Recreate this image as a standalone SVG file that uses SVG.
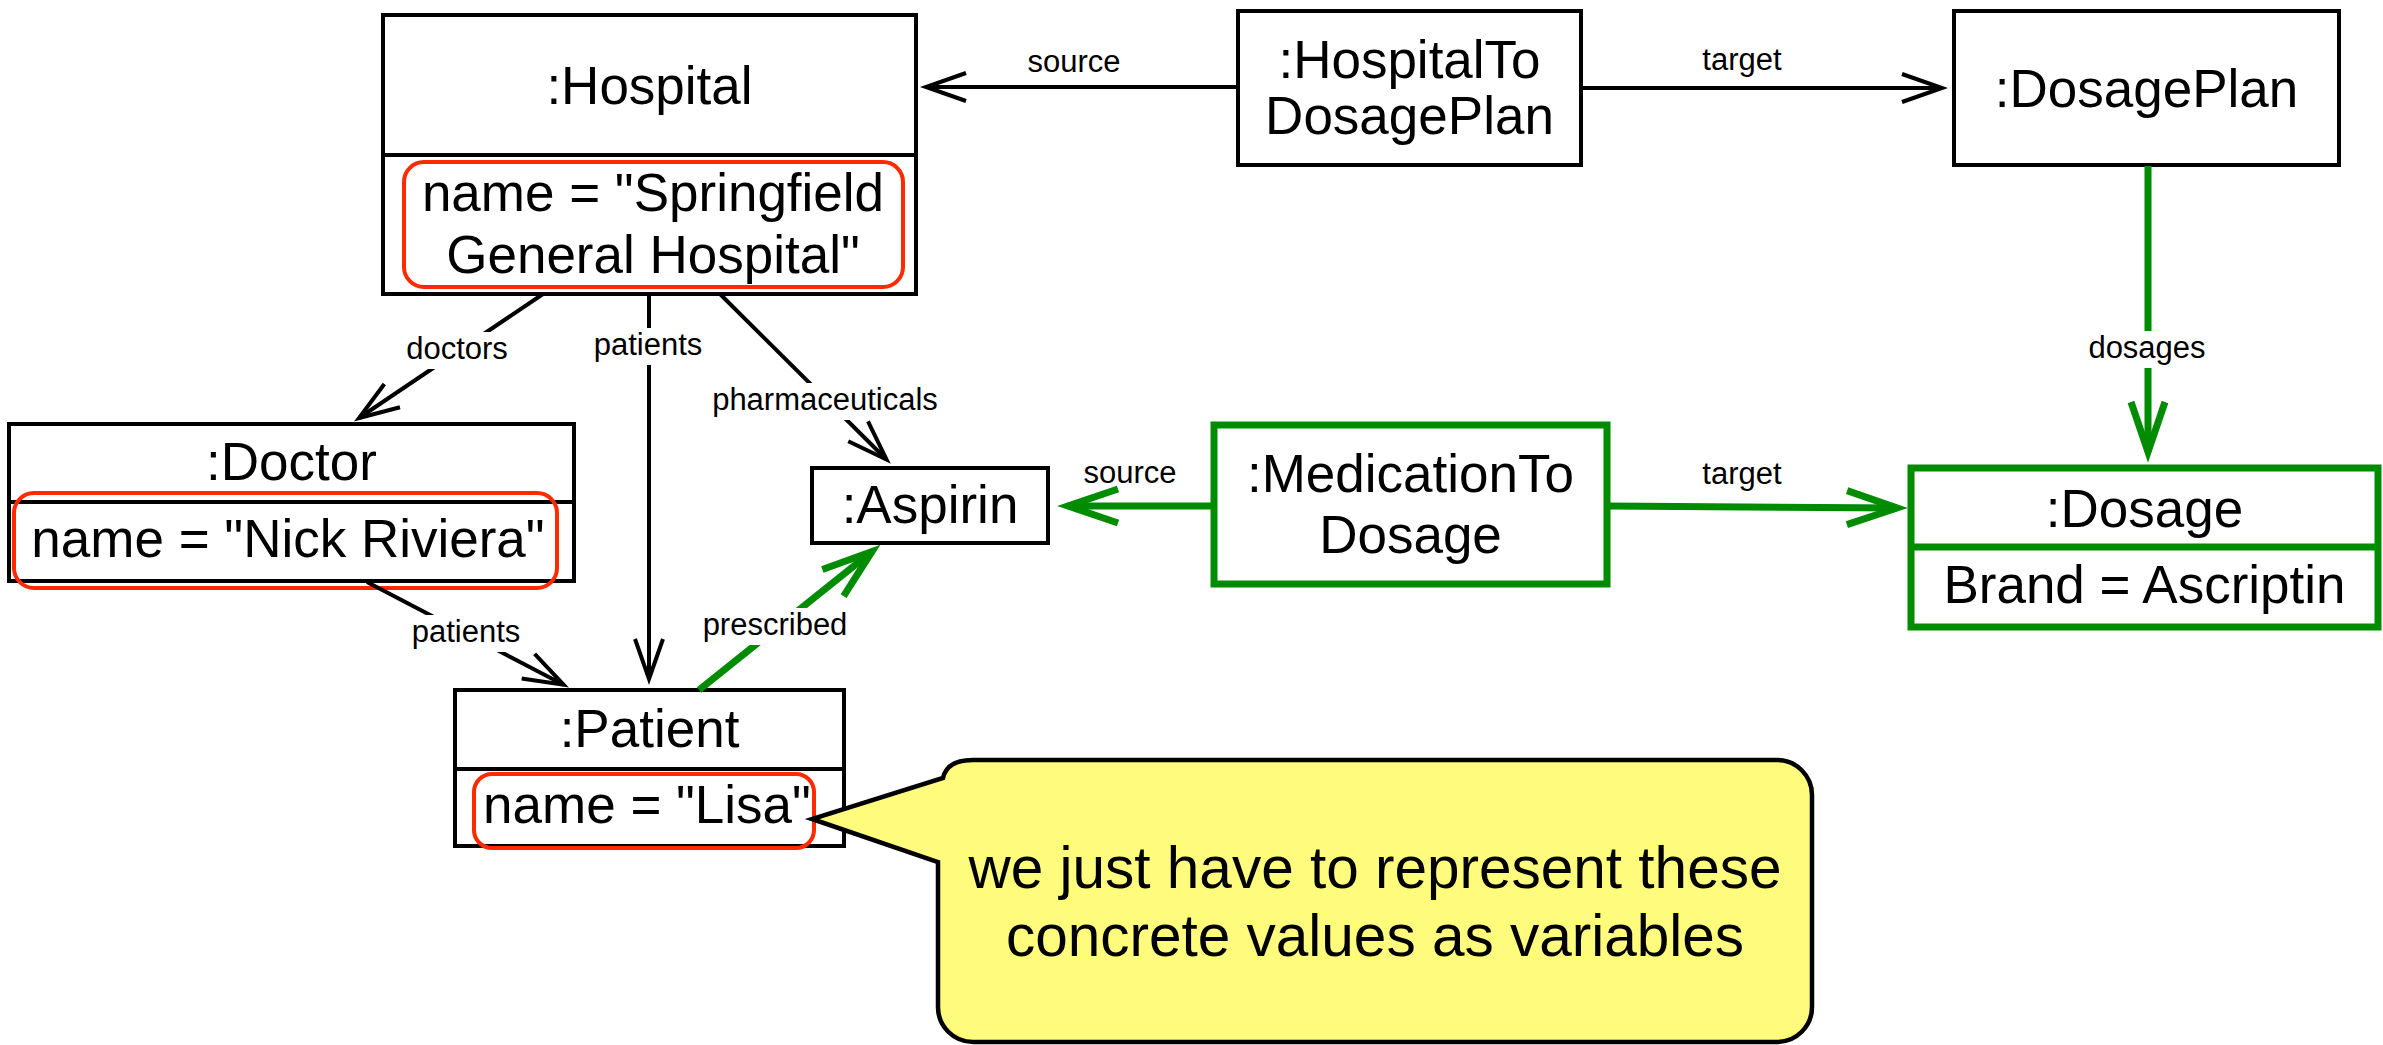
<svg xmlns="http://www.w3.org/2000/svg" width="2383" height="1045" viewBox="0 0 2383 1045">
  <defs>
    <style>
      .box{fill:#fff;stroke:#000;stroke-width:4}
      .gbox{fill:#fff;stroke:#008c00;stroke-width:7}
      .sep{stroke:#000;stroke-width:4}
      .gsep{stroke:#008c00;stroke-width:7}
      .hl{fill:none;stroke:#ff2a00;stroke-width:4}
      .t{font-family:"Liberation Sans",Arial,Helvetica,sans-serif;font-size:53px;fill:#000;text-anchor:middle}
      .lbl{font-family:"Liberation Sans",Arial,Helvetica,sans-serif;font-size:31px;fill:#000;text-anchor:middle}
      .note{font-family:"Liberation Sans",Arial,Helvetica,sans-serif;font-size:58.5px;fill:#000;text-anchor:middle}
      .bg{fill:#fff}
      .edge{fill:none;stroke:#000;stroke-width:4}
      .gedge{fill:none;stroke:#008c00;stroke-width:7}
    </style>
    <marker id="arr" markerUnits="userSpaceOnUse" markerWidth="60" markerHeight="40" viewBox="-50 -20 60 40" refX="0" refY="0" orient="auto" overflow="visible">
      <path d="M-40,-14 L0,0 L-40,14" fill="none" stroke="#000" stroke-width="4"/>
    </marker>
    <marker id="garr" markerUnits="userSpaceOnUse" markerWidth="70" markerHeight="50" viewBox="-60 -25 70 50" refX="0" refY="0" orient="auto" overflow="visible">
      <path d="M-50,-17 L0,0 L-50,17" fill="none" stroke="#008c00" stroke-width="7"/>
    </marker>
  </defs>

  <!-- object nodes -->
  <g id="hospital">
    <rect class="box" x="383" y="15" width="533" height="279"/>
    <line class="sep" x1="383" y1="155" x2="916" y2="155"/>
    <text class="t" x="649.5" y="104">:Hospital</text>
    <rect class="hl" x="404" y="162" width="499" height="125" rx="20"/>
    <text class="t" x="653" y="211">name = "Springfield</text>
    <text class="t" x="653" y="273">General Hospital"</text>
  </g>

  <g id="hospitalToDosagePlan">
    <rect class="box" x="1238" y="11" width="343" height="154"/>
    <text class="t" x="1409.5" y="78">:HospitalTo</text>
    <text class="t" x="1409.5" y="134">DosagePlan</text>
  </g>

  <g id="dosagePlan">
    <rect class="box" x="1954" y="11" width="385" height="154"/>
    <text class="t" x="2146.5" y="107">:DosagePlan</text>
  </g>

  <g id="doctor">
    <rect class="box" x="9" y="424" width="565" height="157"/>
    <line class="sep" x1="9" y1="502" x2="574" y2="502"/>
    <text class="t" x="291.5" y="480">:Doctor</text>
    <rect class="hl" x="14" y="493" width="543" height="95" rx="20"/>
    <text class="t" x="288" y="557">name = "Nick Riviera"</text>
  </g>

  <g id="aspirin">
    <rect class="box" x="812" y="468" width="236" height="75"/>
    <text class="t" x="930" y="523">:Aspirin</text>
  </g>

  <g id="medicationToDosage">
    <rect class="gbox" x="1214" y="425" width="393" height="159"/>
    <text class="t" x="1410.5" y="492">:MedicationTo</text>
    <text class="t" x="1410.5" y="553">Dosage</text>
  </g>

  <g id="dosage">
    <rect class="gbox" x="1911" y="468" width="467" height="159"/>
    <line class="gsep" x1="1911" y1="547" x2="2378" y2="547"/>
    <text class="t" x="2144.5" y="527">:Dosage</text>
    <text class="t" x="2144.5" y="603">Brand = Ascriptin</text>
  </g>

  <g id="patient">
    <rect class="box" x="455" y="690" width="389" height="156"/>
    <line class="sep" x1="455" y1="769" x2="844" y2="769"/>
    <text class="t" x="649.5" y="747">:Patient</text>
    <rect class="hl" x="474" y="774" width="340" height="74" rx="18"/>
    <text class="t" x="647" y="823">name = "Lisa"</text>
  </g>

  <!-- links between objects -->
  <g id="connectors">
    <line class="edge" x1="1238" y1="87" x2="926" y2="87" marker-end="url(#arr)"/>
    <text class="lbl" x="1074" y="72">source</text>

    <line class="edge" x1="1581" y1="88" x2="1942" y2="88" marker-end="url(#arr)"/>
    <text class="lbl" x="1742" y="70">target</text>

    <line class="edge" x1="543" y1="294" x2="359" y2="418" marker-end="url(#arr)"/>
    <rect class="bg" x="404" y="332" width="106" height="37"/>
    <text class="lbl" x="457" y="359">doctors</text>

    <line class="edge" x1="649" y1="294" x2="649" y2="679" marker-end="url(#arr)"/>
    <rect class="bg" x="592" y="328" width="112" height="37"/>
    <text class="lbl" x="648" y="355">patients</text>

    <line class="edge" x1="720" y1="294" x2="886.5" y2="459.5" marker-end="url(#arr)"/>
    <rect class="bg" x="708" y="383" width="234" height="37"/>
    <text class="lbl" x="825" y="410">pharmaceuticals</text>

    <line class="edge" x1="367" y1="582" x2="563.6" y2="684.7" marker-end="url(#arr)"/>
    <rect class="bg" x="409" y="615" width="114" height="37"/>
    <text class="lbl" x="466" y="642">patients</text>

    <line class="gedge" x1="699" y1="690" x2="872" y2="551.5" marker-end="url(#garr)"/>
    <rect class="bg" x="700" y="608" width="151" height="37"/>
    <text class="lbl" x="775" y="635">prescribed</text>

    <line class="gedge" x1="1214" y1="506" x2="1068" y2="506" marker-end="url(#garr)"/>
    <text class="lbl" x="1130" y="483">source</text>

    <line class="gedge" x1="1607" y1="506" x2="1897" y2="508" marker-end="url(#garr)"/>
    <text class="lbl" x="1742" y="484">target</text>

    <line class="gedge" x1="2148" y1="166" x2="2148" y2="452" marker-end="url(#garr)"/>
    <rect class="bg" x="2088" y="331" width="120" height="37"/>
    <text class="lbl" x="2147" y="358">dosages</text>
  </g>

  <!-- speech bubble pointing at the patient's name -->
  <g id="note">
    <path d="M973,760 H1777 A35,35 0 0 1 1812,795 V1007 A35,35 0 0 1 1777,1042 H973 A35,35 0 0 1 938,1007 V862 L812,819 L943,778 Q947,760 973,760 Z" fill="#fffb7d" stroke="#000" stroke-width="4.5" stroke-linejoin="miter"/>
    <text class="note" x="1375" y="888">we just have to represent these</text>
    <text class="note" x="1375" y="956">concrete values as variables</text>
  </g>
</svg>
